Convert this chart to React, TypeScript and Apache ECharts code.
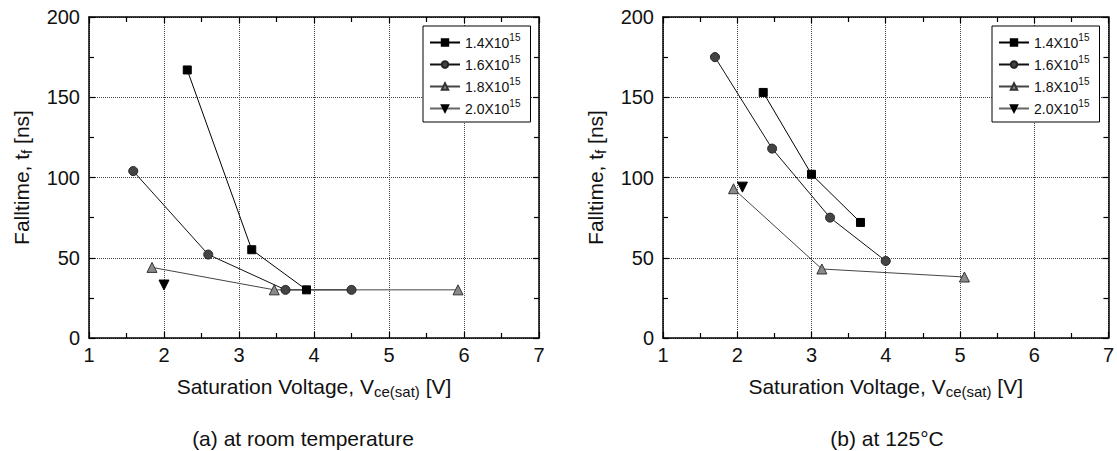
import React, { useEffect, useRef } from "react";
import * as echarts from "echarts";

const FONT = '"Liberation Sans", Arial, Helvetica, sans-serif';

// Series names (rendered with superscript exponent)
const SERIES_NAMES = ["1.4X10^15", "1.6X10^15", "1.8X10^15", "2.0X10^15"];

// (a) at room temperature
const roomX14 = [2.31, 3.17, 3.9];
const roomY14 = [167, 55, 30];
const roomX16 = [1.59, 2.59, 3.62, 4.5];
const roomY16 = [104, 52, 30, 30];
const roomX18 = [1.84, 3.47, 5.92];
const roomY18 = [44, 30, 30];
const roomX20 = [2.0];
const roomY20 = [33];

// (b) at 125°C
const hotX14 = [2.35, 3.0, 3.66];
const hotY14 = [153, 102, 72];
const hotX16 = [1.7, 2.47, 3.25, 4.0];
const hotY16 = [175, 118, 75, 48];
const hotX18 = [1.95, 3.14, 5.06];
const hotY18 = [93, 43, 38];
const hotX20 = [2.07];
const hotY20 = [94];

const X_MIN = 1;
const X_MAX = 7;
const X_INTERVAL = 1;
const Y_MIN = 0;
const Y_MAX = 200;
const Y_INTERVAL = 50;

const CAPTIONS = ["(a) at room temperature", "(b) at 125°C"];
const X_NAME = "Saturation Voltage, V{sub|ce(sat)} [V]";
const Y_NAME = "Falltime, t{sub|f} [ns]";

const STYLES = [
  { symbol: "rect", size: 8, rotate: 0, fill: "#000", border: "#000", line: "#000" },
  { symbol: "circle", size: 9, rotate: 0, fill: "#444", border: "#222", line: "#111" },
  { symbol: "triangle", size: 10, rotate: 0, fill: "#8a8a8a", border: "#333", line: "#444" },
  { symbol: "triangle", size: 10, rotate: 180, fill: "#000", border: "#000", line: "#666" },
];

const axisLineStyle = { color: "#000", width: 1.5 };
const tickStyle = { color: "#000", width: 1.2 };
const NAME_STYLE = {
  fontSize: 21,
  color: "#111",
  fontFamily: FONT,
  rich: { sub: { fontSize: 15, fontFamily: FONT, color: "#111", padding: [11, 0, 0, 0] } },
};

function mainX(gridIndex: number) {
  return {
    type: "value",
    gridIndex,
    min: X_MIN,
    max: X_MAX,
    interval: X_INTERVAL,
    position: "bottom",
    axisLine: { show: true, onZero: false, lineStyle: axisLineStyle },
    axisTick: { show: true, inside: true, length: 6, lineStyle: tickStyle },
    minorTick: { show: true, splitNumber: 2, length: 5, lineStyle: tickStyle },
    splitLine: { show: true, lineStyle: { type: "dotted", color: "#444", width: 1 } },
    axisLabel: { fontSize: 20, color: "#111", fontFamily: FONT, margin: 7 },
    name: X_NAME,
    nameLocation: "middle",
    nameGap: 35,
    nameTextStyle: NAME_STYLE,
  };
}

function mirrorX(gridIndex: number) {
  return {
    type: "value",
    gridIndex,
    min: X_MIN,
    max: X_MAX,
    interval: X_INTERVAL,
    position: "top",
    axisLine: { show: true, onZero: false, lineStyle: axisLineStyle },
    axisTick: { show: true, inside: true, length: 6, lineStyle: tickStyle },
    minorTick: { show: true, splitNumber: 2, length: 5, lineStyle: tickStyle },
    splitLine: { show: false },
    axisLabel: { show: false },
  };
}

function mainY(gridIndex: number) {
  return {
    type: "value",
    gridIndex,
    min: Y_MIN,
    max: Y_MAX,
    interval: Y_INTERVAL,
    position: "left",
    axisLine: { show: true, onZero: false, lineStyle: axisLineStyle },
    axisTick: { show: true, inside: true, length: 6, lineStyle: tickStyle },
    minorTick: { show: true, splitNumber: 2, length: 5, lineStyle: tickStyle },
    splitLine: { show: true, lineStyle: { type: "dotted", color: "#444", width: 1 } },
    axisLabel: { fontSize: 20, color: "#111", fontFamily: FONT, margin: 9 },
    name: Y_NAME,
    nameLocation: "middle",
    nameGap: 55,
    nameRotate: 90,
    nameTextStyle: NAME_STYLE,
  };
}

function mirrorY(gridIndex: number) {
  return {
    type: "value",
    gridIndex,
    min: Y_MIN,
    max: Y_MAX,
    interval: Y_INTERVAL,
    position: "right",
    axisLine: { show: true, onZero: false, lineStyle: axisLineStyle },
    axisTick: { show: true, inside: true, length: 6, lineStyle: tickStyle },
    minorTick: { show: true, splitNumber: 2, length: 5, lineStyle: tickStyle },
    splitLine: { show: false },
    axisLabel: { show: false },
  };
}

function makeSeries(idx: number, xs: number[], ys: number[], axis: number) {
  const s = STYLES[idx];
  return {
    type: "line",
    name: SERIES_NAMES[idx],
    xAxisIndex: axis,
    yAxisIndex: axis,
    data: xs.map((x, i) => [x, ys[i]]),
    symbol: s.symbol,
    symbolSize: s.size,
    symbolRotate: s.rotate,
    showAllSymbol: true,
    lineStyle: { color: s.line, width: 1 },
    itemStyle: { color: s.fill, borderColor: s.border, borderWidth: 1 },
    emphasis: { disabled: true },
    z: 3,
  };
}

function legendFor(left: number) {
  return {
    orient: "vertical",
    left,
    top: 26,
    data: SERIES_NAMES,
    itemWidth: 30,
    itemHeight: 8,
    itemGap: 4,
    padding: [6, 10, 6, 6],
    borderColor: "#000",
    borderWidth: 1,
    backgroundColor: "#fff",
    selectedMode: false,
    formatter: (name: string) => {
      const [a, b] = name.split("^");
      return `${a}{sup|${b}}`;
    },
    textStyle: {
      fontSize: 14,
      color: "#111",
      fontFamily: FONT,
      lineHeight: 15,
      rich: {
        sup: { fontSize: 10, fontFamily: FONT, color: "#111", padding: [0, 0, 11, 0] },
      },
    },
  };
}

export default function App() {
  const ref = useRef<HTMLDivElement>(null);

  useEffect(() => {
    document.body.style.margin = "0";
    if (!ref.current) return;
    const chart = echarts.init(ref.current, null, { renderer: "svg" });
    chart.setOption({
      animation: false,
      backgroundColor: "#fff",
      grid: [
        { left: 89, top: 17, width: 450, height: 321 },
        { left: 663, top: 17, width: 448, height: 321 },
      ],
      xAxis: [mainX(0), mainX(1), mirrorX(0), mirrorX(1)],
      yAxis: [mainY(0), mainY(1), mirrorY(0), mirrorY(1)],
      legend: [legendFor(423), legendFor(992)],
      series: [
        makeSeries(0, roomX14, roomY14, 0),
        makeSeries(1, roomX16, roomY16, 0),
        makeSeries(2, roomX18, roomY18, 0),
        makeSeries(3, roomX20, roomY20, 0),
        makeSeries(0, hotX14, hotY14, 1),
        makeSeries(1, hotX16, hotY16, 1),
        makeSeries(2, hotX18, hotY18, 1),
        makeSeries(3, hotX20, hotY20, 1),
      ],
      graphic: [
        {
          type: "text",
          x: 303,
          y: 438,
          style: {
            text: CAPTIONS[0],
            fill: "#111",
            font: `21px ${FONT}`,
            align: "center",
            verticalAlign: "middle",
          },
        },
        {
          type: "text",
          x: 887,
          y: 438,
          style: {
            text: CAPTIONS[1],
            fill: "#111",
            font: `21px ${FONT}`,
            align: "center",
            verticalAlign: "middle",
          },
        },
      ],
    });
    return () => chart.dispose();
  }, []);

  return <div ref={ref} style={{ width: 1117, height: 451 }} />;
}
